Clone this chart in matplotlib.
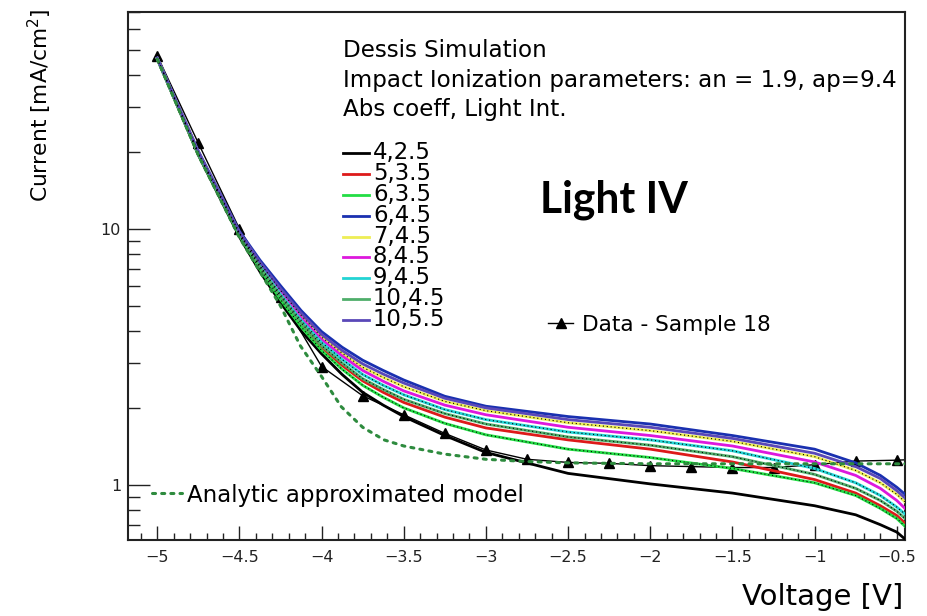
import matplotlib
matplotlib.use("Agg")
import matplotlib.pyplot as plt
from matplotlib.lines import Line2D
from matplotlib.ticker import MultipleLocator, FixedLocator, FixedFormatter, NullFormatter, FuncFormatter

W, H = 927, 616

# simulated light IV curves, current density in mA/cm^2
voltage = [-5.0, -4.75, -4.5, -4.375, -4.25, -4.125, -4.0, -3.875, -3.75, -3.625, -3.5,
           -3.25, -3.0, -2.5, -2.0, -1.5, -1.0, -0.75, -0.6, -0.5, -0.45]
i_4_25 = [46.0, 19.4, 9.3, 6.8, 5.15, 4.0, 3.25, 2.7, 2.3, 2.05, 1.85,
          1.56, 1.34, 1.11, 1.01, 0.93, 0.83, 0.765, 0.70, 0.655, 0.615]
i_5_35 = [46.1, 19.6, 9.45, 7.0, 5.4, 4.25, 3.45, 2.93, 2.55, 2.3, 2.1,
          1.84, 1.67, 1.5, 1.38, 1.23, 1.05, 0.93, 0.83, 0.76, 0.71]
i_6_35 = [46.0, 19.5, 9.4, 6.95, 5.3, 4.15, 3.35, 2.83, 2.45, 2.2, 2.0,
          1.74, 1.57, 1.38, 1.28, 1.16, 1.02, 0.91, 0.81, 0.74, 0.69]
i_6_45 = [46.5, 20.1, 9.8, 7.55, 6.0, 4.8, 3.97, 3.45, 3.07, 2.8, 2.57,
          2.22, 2.03, 1.85, 1.73, 1.56, 1.38, 1.22, 1.09, 0.98, 0.92]
i_7_45 = [46.3, 19.9, 9.65, 7.35, 5.75, 4.6, 3.78, 3.27, 2.88, 2.63, 2.42,
          2.12, 1.95, 1.75, 1.63, 1.48, 1.29, 1.14, 1.02, 0.92, 0.86]
i_8_45 = [46.3, 19.8, 9.6, 7.25, 5.65, 4.5, 3.7, 3.19, 2.8, 2.54, 2.33,
          2.05, 1.88, 1.68, 1.56, 1.42, 1.23, 1.09, 0.97, 0.87, 0.81]
i_9_45 = [46.2, 19.7, 9.55, 7.17, 5.55, 4.4, 3.6, 3.09, 2.7, 2.45, 2.25,
          1.97, 1.8, 1.61, 1.5, 1.36, 1.16, 1.02, 0.91, 0.82, 0.77]
i_10_45 = [46.1, 19.6, 9.5, 7.1, 5.45, 4.3, 3.5, 2.99, 2.6, 2.36, 2.16,
           1.9, 1.73, 1.54, 1.43, 1.29, 1.1, 0.97, 0.87, 0.79, 0.74]
i_10_55 = [46.4, 20.0, 9.7, 7.42, 5.85, 4.69, 3.87, 3.35, 2.97, 2.71, 2.5,
           2.18, 2.0, 1.8, 1.68, 1.52, 1.33, 1.18, 1.06, 0.95, 0.89]

sim_labels = ["4,2.5", "5,3.5", "6,3.5", "6,4.5", "7,4.5", "8,4.5", "9,4.5", "10,4.5", "10,5.5"]
sim_curves = [i_4_25, i_5_35, i_6_35, i_6_45, i_7_45, i_8_45, i_9_45, i_10_45, i_10_55]
sim_colors = ["#000000", "#dd1a1a", "#22dd44", "#1a30b0", "#eeee55",
              "#dd18dd", "#22d4d4", "#4fae6a", "#5a48b8"]
dotted_over = ["6,3.5", "7,4.5", "9,4.5", "10,4.5"]

# measured data
v_data = [-5.0, -4.75, -4.5, -4.25, -4.0, -3.75, -3.5, -3.25, -3.0, -2.75,
          -2.5, -2.25, -2.0, -1.75, -1.5, -1.25, -1.0, -0.75, -0.5, -0.25]
i_data = [47.4, 21.6, 10.0, 5.4, 2.90, 2.23, 1.88, 1.59, 1.37, 1.26,
          1.225, 1.215, 1.19, 1.18, 1.17, 1.17, 1.20, 1.24, 1.25, 1.27]

# analytic model
v_model = [-5.0, -4.75, -4.5, -4.375, -4.25, -4.13, -4.0, -3.88, -3.75, -3.62, -3.5, -3.25,
           -3.0, -2.75, -2.5, -2.0, -1.5, -1.0, -0.5, -0.45]
i_model = [46.0, 19.4, 9.25, 6.8, 5.0, 3.5, 2.65, 2.02, 1.68, 1.5, 1.42, 1.32,
           1.26, 1.235, 1.22, 1.21, 1.21, 1.21, 1.21, 1.21]

y_major = [1, 10]
y_major_labels = ["1", "10"]
y_minor = [0.7, 0.8, 0.9, 2, 3, 4, 5, 6, 7, 8, 9, 20, 30, 40, 50, 60, 70]

model_color = "#2e8b3e"


def fpos(x, y):
    return x / W, 1 - y / H


fig = plt.figure(figsize=(W / 100, H / 100), dpi=100)
ax = fig.add_axes([128 / W, 1 - 540 / H, 777 / W, 528 / H])
ax.set_yscale("log")

ax.plot(v_data, i_data, color="k", lw=1.0, marker="^", ms=7, zorder=2)
for lab, cur, col in zip(sim_labels, sim_curves, sim_colors):
    ax.plot(voltage, cur, color=col, lw=2.0, zorder=3)
for lab, cur in zip(sim_labels, sim_curves):
    if lab in dotted_over:
        ax.plot(voltage, cur, color="k", lw=0.8, ls=(0, (1, 2.5)), zorder=4)
ax.plot(v_model, i_model, color=model_color, lw=2.2, ls=(0, (1, 2)),
        dash_capstyle="round", zorder=5)

ax.set_xlim(-5.178, -0.45)
ax.set_ylim(0.61, 70.2)

ax.xaxis.set_major_locator(MultipleLocator(0.5))
ax.xaxis.set_minor_locator(MultipleLocator(0.1))
ax.xaxis.set_major_formatter(FuncFormatter(lambda v, p: f"{v:g}".replace("-", "\u2212")))
ax.yaxis.set_major_locator(FixedLocator(y_major))
ax.yaxis.set_major_formatter(FixedFormatter(y_major_labels))
ax.yaxis.set_minor_locator(FixedLocator(y_minor))
ax.yaxis.set_minor_formatter(NullFormatter())

ax.tick_params(which="both", direction="in", top=False, right=False, width=1.0, color="#222222")
ax.tick_params(axis="x", which="major", length=10, labelsize=11.5, pad=7, labelcolor="#222222")
ax.tick_params(axis="x", which="minor", length=5.4)
ax.tick_params(axis="y", which="major", length=16, labelsize=11.5, pad=5, labelcolor="#222222")
ax.tick_params(axis="y", which="minor", length=8.5)
for sp in ax.spines.values():
    sp.set_linewidth(1.5)
    sp.set_color("#222222")

# axis titles
fig.text(*fpos(903, 605), "Voltage [V]", ha="right", va="baseline", fontsize=21)
fig.text(*fpos(40, 8), "Current [mA/cm$^2$]", rotation=90, ha="center", va="top", fontsize=15.7)

# header block
header = ["Dessis Simulation",
          "Impact Ionization parameters: an = 1.9, ap=9.4",
          "Abs coeff, Light Int."]
for k, line in enumerate(header):
    fig.text(*fpos(343, 57 + 29.7 * k), line, ha="left", va="baseline", fontsize=16.6)

# simulation legend
for k, (lab, col) in enumerate(zip(sim_labels, sim_colors)):
    yb = 159.3 + 20.8 * k
    x0, y0 = fpos(343, yb - 6)
    x1, _ = fpos(369, yb - 6)
    fig.add_artist(Line2D([x0, x1], [y0, y0], color=col, lw=2.0, transform=fig.transFigure))
    fig.text(*fpos(373, yb), lab, ha="left", va="baseline", fontsize=16.4)

# data legend
x0, y0 = fpos(548, 323)
x1, _ = fpos(573, 323)
xm, _ = fpos(560.5, 323)
fig.add_artist(Line2D([x0, x1], [y0, y0], color="k", lw=1.0, transform=fig.transFigure))
fig.add_artist(Line2D([xm], [y0], color="k", marker="^", ms=7, transform=fig.transFigure))
fig.text(*fpos(581.7, 331), "Data - Sample 18", ha="left", va="baseline", fontsize=15.6)

# model legend
x0, y0 = fpos(152, 493.3)
x1, _ = fpos(182, 493.3)
fig.add_artist(Line2D([x0, x1], [y0, y0], color=model_color, lw=2.2, ls=(0, (1, 2)),
                      dash_capstyle="round", transform=fig.transFigure))
fig.text(*fpos(186.7, 501.7), "Analytic approximated model", ha="left", va="baseline", fontsize=16.5)

fig.text(*fpos(540, 213), "Light IV", ha="left", va="baseline", fontsize=30.7,
         family="Lato", fontweight="bold")

fig.savefig("out.png", dpi=100)
